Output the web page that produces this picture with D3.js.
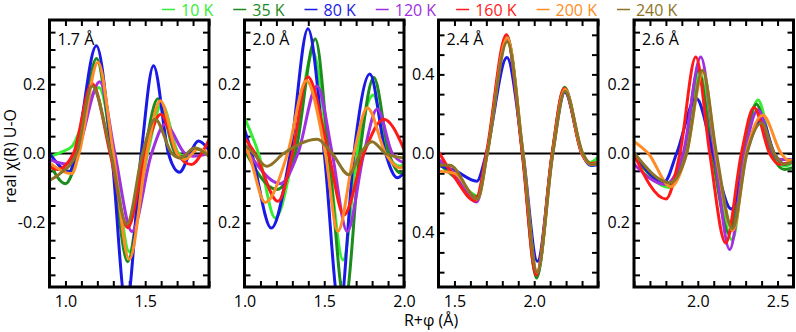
<!DOCTYPE html>
<html lang="en">
  <head>
  <meta charset="utf-8"/>
    <script type="text/javascript" src="https://cdnjs.cloudflare.com/ajax/libs/d3/7.8.5/d3.min.js"></script>
    <style>
      body { margin: 0; background: #fff; }
      text { font-family: "Open Sans", "Noto Sans", sans-serif; }
    </style>
  </head>
  <body>
<svg class="fillmeup"></svg>
    <script type="text/javascript">

// series names (temperatures), one colour each
var temps = ["10 K", "35 K", "80 K", "120 K", "160 K", "200 K", "240 K"];
var colors = ["#33ee33", "#1c8c1c", "#1a1ae6", "#a030e0", "#ff1a1a", "#ff8c26", "#8c7326"];

// panel titles
var panelLabels = ["1.7 Å", "2.0 Å", "2.4 Å", "2.6 Å"];

// x ranges of each panel
var xDomains = [[0.9, 1.9], [1.0, 2.0], [1.4, 2.4], [1.6, 2.6]];
var yDomains = [[-0.385, 0.385], [-0.385, 0.385], [-0.675, 0.675], [-0.385, 0.385]];

// labelled ticks
var xTickValues = [[1.0, 1.5], [1.0, 1.5, 2.0], [1.5, 2.0], [2.0, 2.5]];
var yTickValues = [[0.2, 0, -0.2], [0.2, 0, -0.2], [0.4, 0, -0.4], [0.2, 0, -0.2]];
var yTickLabels = [["0.2", "0.0", "-0.2"], ["0.2", "0.0", "0.2"], ["0.4", "0.0", "0.4"], ["0.2", "0.0", "0.2"]];
var yMinorStep = [0.05, 0.05, 0.1, 0.05];

// curve key points [R+phi, real chi], one list per temperature
var panel17 = [
  [[0.9,-0.01],[0.97,0.003],[1.04,0.02],[1.21,0.19],[1.302,0],[1.40,-0.283],[1.515,0],[1.604,0.142],[1.71,0],[1.76,-0.01],[1.83,0.012],[1.9,0.0]],
  [[0.9,-0.027],[1.0,-0.087],[1.08,0],[1.195,0.274],[1.29,0],[1.39,-0.312],[1.495,0],[1.58,0.158],[1.69,0],[1.74,-0.01],[1.81,0.016],[1.9,-0.005]],
  [[0.9,0.0],[1.025,-0.052],[1.065,0],[1.194,0.311],[1.29,0],[1.381,-0.44],[1.475,0],[1.552,0.253],[1.646,0],[1.715,-0.054],[1.78,0],[1.833,0.036],[1.9,0.01]],
  [[0.9,-0.017],[1.0,-0.03],[1.07,0],[1.215,0.207],[1.31,0],[1.417,-0.225],[1.54,0],[1.625,0.084],[1.75,0],[1.8,-0.008],[1.9,0.0]],
  [[0.9,-0.037],[0.95,-0.046],[1.05,0],[1.167,0.202],[1.28,0],[1.39,-0.214],[1.5,0],[1.598,0.113],[1.70,0],[1.79,-0.032],[1.854,0],[1.9,0.04]],
  [[0.9,-0.027],[1.04,-0.058],[1.085,0],[1.204,0.263],[1.30,0],[1.40,-0.305],[1.51,0],[1.594,0.152],[1.70,0],[1.75,-0.017],[1.83,0.012],[1.9,0.0]],
  [[0.9,-0.078],[0.96,-0.06],[1.07,0],[1.167,0.195],[1.285,0],[1.385,-0.204],[1.483,0],[1.5625,0.099],[1.667,0],[1.72,-0.013],[1.81,0.016],[1.9,-0.008]]
];
var panel20 = [
  [[1.0,0.103],[1.088,0],[1.193,-0.186],[1.308,0],[1.43,0.292],[1.525,0],[1.618,-0.307],[1.706,0],[1.807,0.169],[1.895,0],[1.973,-0.037],[2.0,-0.03]],
  [[1.0,0.01],[1.203,-0.104],[1.319,0],[1.444,0.33],[1.528,0],[1.629,-0.43],[1.723,0],[1.811,0.219],[1.906,0],[1.979,-0.056],[2.0,-0.05]],
  [[1.0,0.07],[1.046,0],[1.168,-0.215],[1.287,0],[1.398,0.36],[1.50,0],[1.597,-0.45],[1.686,0],[1.786,0.229],[1.885,0],[1.958,-0.07],[2.0,-0.056]],
  [[1.0,0.015],[1.025,0],[1.224,-0.087],[1.335,0],[1.455,0.195],[1.55,0],[1.644,-0.225],[1.748,0],[1.832,0.128],[1.927,0],[2.0,-0.027]],
  [[1.0,0.045],[1.067,0],[1.21,-0.138],[1.30,0],[1.396,0.221],[1.528,0],[1.623,-0.177],[1.748,0],[1.874,0.099],[2.0,0.012]],
  [[1.0,0.021],[1.025,0],[1.13,-0.141],[1.27,0],[1.388,0.21],[1.507,0],[1.585,-0.225],[1.686,0],[1.77,0.132],[1.885,0],[1.979,-0.042],[2.0,-0.035]],
  [[1.0,0.026],[1.057,0],[1.14,-0.037],[1.245,0],[1.455,0.041],[1.55,0],[1.654,-0.061],[1.727,0],[1.80,0.034],[1.885,0],[2.0,-0.013]]
];
var panel24 = [
  [[1.4,-0.04],[1.5,-0.11],[1.645,-0.215],[1.704,0],[1.829,0.59],[1.927,0],[2.015,-0.625],[2.113,0],[2.19,0.33],[2.30,0],[2.35,-0.045],[2.4,-0.02]],
  [[1.4,-0.05],[1.5,-0.12],[1.645,-0.22],[1.704,0],[1.829,0.595],[1.927,0],[2.015,-0.63],[2.113,0],[2.19,0.335],[2.30,0],[2.355,-0.06],[2.4,-0.05]],
  [[1.4,-0.06],[1.5,-0.085],[1.64,-0.14],[1.70,0],[1.829,0.485],[1.93,0],[2.02,-0.545],[2.115,0],[2.192,0.31],[2.30,0],[2.355,-0.06],[2.4,-0.055]],
  [[1.4,-0.03],[1.5,-0.10],[1.64,-0.245],[1.704,0],[1.829,0.58],[1.927,0],[2.015,-0.61],[2.115,0],[2.19,0.325],[2.30,0],[2.355,-0.055],[2.4,-0.05]],
  [[1.4,0.01],[1.5,-0.12],[1.63,-0.24],[1.70,0],[1.826,0.60],[1.925,0],[2.013,-0.615],[2.112,0],[2.188,0.33],[2.298,0],[2.35,-0.05],[2.4,-0.045]],
  [[1.4,-0.09],[1.5,-0.10],[1.645,-0.23],[1.706,0],[1.831,0.585],[1.93,0],[2.018,-0.60],[2.116,0],[2.192,0.325],[2.302,0],[2.355,-0.055],[2.4,-0.05]],
  [[1.4,-0.06],[1.47,-0.06],[1.645,-0.23],[1.706,0],[1.831,0.565],[1.93,0],[2.018,-0.60],[2.117,0],[2.193,0.315],[2.305,0],[2.36,-0.055],[2.4,-0.05]]
];
var panel26 = [
  [[1.6,-0.003],[1.82,-0.098],[1.919,0],[2.01,0.235],[2.10,0],[2.217,-0.25],[2.294,0],[2.377,0.154],[2.471,0],[2.544,-0.036],[2.6,-0.025]],
  [[1.6,-0.008],[1.815,-0.089],[1.915,0],[2.002,0.24],[2.09,0],[2.196,-0.231],[2.283,0],[2.367,0.142],[2.46,0],[2.544,-0.046],[2.6,-0.04]],
  [[1.6,0.002],[1.79,-0.082],[1.867,0],[1.99,0.159],[2.096,0],[2.21,-0.16],[2.304,0],[2.398,0.1],[2.48,0],[2.544,-0.031],[2.6,-0.022]],
  [[1.6,-0.031],[1.794,-0.089],[1.908,0],[2.019,0.278],[2.106,0],[2.2,-0.277],[2.294,0],[2.377,0.126],[2.475,0],[2.52,-0.017],[2.6,-0.017]],
  [[1.6,-0.003],[1.8,-0.131],[1.888,0],[1.9875,0.278],[2.075,0],[2.175,-0.258],[2.273,0],[2.352,0.133],[2.45,0],[2.51,-0.031],[2.6,-0.022]],
  [[1.6,0.035],[1.69,0],[1.831,-0.096],[1.929,0],[2.033,0.235],[2.113,0],[2.221,-0.222],[2.304,0],[2.408,0.11],[2.523,0],[2.57,-0.02],[2.6,-0.017]],
  [[1.6,0.002],[1.825,-0.084],[1.93,0],[2.029,0.24],[2.117,0],[2.217,-0.217],[2.308,0],[2.398,0.088],[2.48,0],[2.544,-0.031],[2.6,-0.022]]
];
var panelData = [panel17, panel20, panel24, panel26];

// layout
var width = 796, height = 332;
var plotTop = 20, plotBottom = 287;
var panelLeft = [49.5, 244.5, 438.5, 634];
var panelWidth = 159.5;
var tickLen = 6;

var svg = d3.select('.fillmeup')
  .attr("width", width)
  .attr("height", height);

function near(a, b) { return Math.abs(a - b) < 1e-9; }

panelData.forEach(function(series, p) {
  var x = d3.scaleLinear().domain(xDomains[p]).range([panelLeft[p], panelLeft[p] + panelWidth]);
  var y = d3.scaleLinear().domain(yDomains[p]).range([plotBottom, plotTop]);

  var g = svg.append("g");

  g.append("clipPath").attr("id", "clip" + p)
    .append("rect")
    .attr("x", x.range()[0]).attr("y", plotTop)
    .attr("width", panelWidth).attr("height", plotBottom - plotTop);

  // minor tick positions
  var lo = Math.round(xDomains[p][0] * 10), hi = Math.round(xDomains[p][1] * 10);
  var xMinor = d3.range(lo, hi + 1).map(function(d) { return d / 10; });
  var ys = yMinorStep[p];
  var yMinor = d3.range(Math.ceil(yDomains[p][0] / ys), Math.floor(yDomains[p][1] / ys) + 1)
    .map(function(d) { return +(d * ys).toFixed(3); });

  var xLabel = function(d) {
    return xTickValues[p].some(function(m) { return near(m, d); }) ? d.toFixed(1) : "";
  };
  var yLabel = function(d) {
    var i = yTickValues[p].findIndex(function(m) { return near(m, d); });
    return i < 0 ? "" : yTickLabels[p][i];
  };

  var axes = [
    { gen: d3.axisBottom(x).tickValues(xMinor).tickFormat(xLabel).tickPadding(9), t: "translate(0," + plotBottom + ")" },
    { gen: d3.axisTop(x).tickValues(xMinor).tickFormat(""), t: "translate(0," + plotTop + ")" },
    { gen: d3.axisLeft(y).tickValues(yMinor).tickFormat(yLabel).tickPadding(4), t: "translate(" + x.range()[0] + ",0)" },
    { gen: d3.axisRight(y).tickValues(yMinor).tickFormat(""), t: "translate(" + x.range()[1] + ",0)" }
  ];
  axes.forEach(function(a) {
    var ag = g.append("g").attr("transform", a.t)
      .call(a.gen.tickSizeInner(-tickLen).tickSizeOuter(0));
    ag.select(".domain").remove();
    ag.selectAll(".tick line").attr("stroke", "#000").attr("stroke-width", 2);
    ag.selectAll(".tick text").attr("fill", "#000").style("font-size", "16px")
      .style("font-family", '"Open Sans", "Noto Sans", sans-serif');
  });

  // zero line
  g.append("line")
    .attr("x1", x.range()[0]).attr("x2", x.range()[1])
    .attr("y1", y(0)).attr("y2", y(0))
    .attr("stroke", "#000").attr("stroke-width", 2);

  var line = d3.line()
    .x(function(d) { return x(d[0]); })
    .y(function(d) { return y(d[1]); })
    .curve(d3.curveMonotoneX);

  g.append("g").attr("clip-path", "url(#clip" + p + ")")
    .selectAll("path")
    .data(series)
    .enter()
    .append("path")
    .attr("d", line)
    .attr("fill", "none")
    .attr("stroke", function(d, i) { return colors[i]; })
    .attr("stroke-width", 3)
    .attr("stroke-linejoin", "round");

  // frame
  g.append("rect")
    .attr("x", x.range()[0]).attr("y", plotTop)
    .attr("width", panelWidth).attr("height", plotBottom - plotTop)
    .attr("fill", "none").attr("stroke", "#000").attr("stroke-width", 3);

  g.append("text")
    .attr("x", x.range()[0] + 8).attr("y", 45)
    .style("font-size", "16px")
    .text(panelLabels[p]);
});

// legend laid out left to right
var lx = 162;
temps.forEach(function(t, i) {
  var item = svg.append("g");
  item.append("line")
    .attr("x1", lx).attr("x2", lx + 13)
    .attr("y1", 9.5).attr("y2", 9.5)
    .attr("stroke", colors[i]).attr("stroke-width", 1.5);
  var txt = item.append("text")
    .attr("x", lx + 19).attr("y", 15.5)
    .attr("fill", colors[i])
    .style("font-size", "16px")
    .text(t);
  lx = lx + 19 + txt.node().getComputedTextLength() + 20;
});

// axis titles
svg.append("text")
  .attr("transform", "translate(16,156) rotate(-90)")
  .attr("text-anchor", "middle")
  .style("font-size", "16px")
  .text("real χ(R) U-O");

svg.append("text")
  .attr("x", 431).attr("y", 326)
  .attr("text-anchor", "middle")
  .style("font-size", "16px")
  .text("R+φ (Å)");

    </script>
  </body>
</html>
